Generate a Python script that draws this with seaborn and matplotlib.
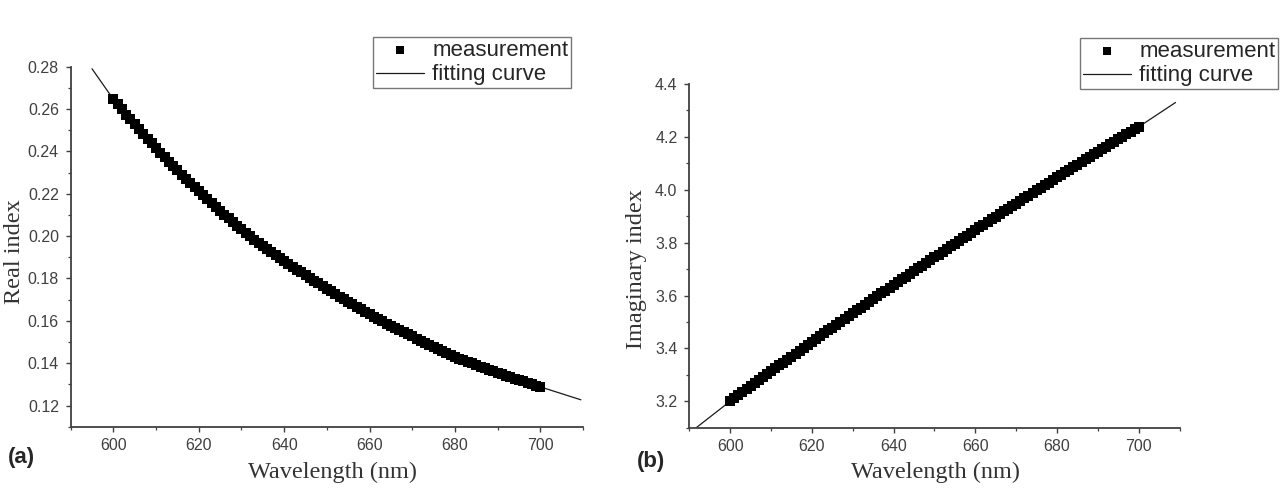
import matplotlib
matplotlib.use('Agg')
import matplotlib.pyplot as plt
import matplotlib.ticker as mticker
import seaborn as sns

# measured wavelengths (nm), every 1 nm
wavelength = list(range(600, 701))

real_index = [
    0.2646, 0.2622, 0.2598, 0.2574, 0.2551, 0.2528, 0.2505, 0.2482, 0.2460, 0.2438,
    0.2416, 0.2394, 0.2373, 0.2352, 0.2331, 0.2310, 0.2290, 0.2270, 0.2250, 0.2230,
    0.2211, 0.2192, 0.2173, 0.2155, 0.2137, 0.2119, 0.2102, 0.2084, 0.2067, 0.2050,
    0.2033, 0.2016, 0.2000, 0.1984, 0.1969, 0.1954, 0.1939, 0.1924, 0.1910, 0.1896,
    0.1882, 0.1868, 0.1855, 0.1842, 0.1829, 0.1816, 0.1803, 0.1790, 0.1777, 0.1764,
    0.1752, 0.1739, 0.1727, 0.1714, 0.1702, 0.1690, 0.1678, 0.1666, 0.1654, 0.1642,
    0.1631, 0.1619, 0.1608, 0.1597, 0.1587, 0.1576, 0.1566, 0.1556, 0.1546, 0.1536,
    0.1526, 0.1516, 0.1506, 0.1496, 0.1487, 0.1477, 0.1468, 0.1458, 0.1449, 0.1439,
    0.1430, 0.1422, 0.1414, 0.1406, 0.1399, 0.1391, 0.1384, 0.1376, 0.1369, 0.1362,
    0.1355, 0.1348, 0.1341, 0.1334, 0.1327, 0.1320, 0.1314, 0.1307, 0.1301, 0.1294,
    0.1288,
]

imag_index = [
    3.2000, 3.2114, 3.2228, 3.2341, 3.2454, 3.2567, 3.2680, 3.2793, 3.2905, 3.3018,
    3.3130, 3.3242, 3.3353, 3.3465, 3.3576, 3.3687, 3.3798, 3.3909, 3.4019, 3.4129,
    3.4239, 3.4349, 3.4459, 3.4568, 3.4677, 3.4786, 3.4895, 3.5004, 3.5112, 3.5220,
    3.5328, 3.5436, 3.5544, 3.5651, 3.5758, 3.5865, 3.5972, 3.6079, 3.6185, 3.6291,
    3.6397, 3.6503, 3.6608, 3.6714, 3.6819, 3.6924, 3.7028, 3.7133, 3.7237, 3.7341,
    3.7445, 3.7549, 3.7652, 3.7756, 3.7859, 3.7962, 3.8064, 3.8167, 3.8269, 3.8371,
    3.8473, 3.8575, 3.8676, 3.8777, 3.8878, 3.8979, 3.9080, 3.9180, 3.9280, 3.9380,
    3.9480, 3.9580, 3.9679, 3.9778, 3.9877, 3.9976, 4.0075, 4.0173, 4.0271, 4.0369,
    4.0467, 4.0565, 4.0662, 4.0759, 4.0856, 4.0953, 4.1050, 4.1146, 4.1242, 4.1338,
    4.1434, 4.1530, 4.1625, 4.1720, 4.1815, 4.1910, 4.2004, 4.2098, 4.2192, 4.2286,
    4.2380,
]

# fitting curves
fit_real_x = [595, 600, 605, 610, 615, 620, 625, 630, 635, 640, 645, 650,
              655, 660, 665, 670, 675, 680, 685, 690, 695, 700, 705, 709.5]
fit_real_y = [0.2790, 0.2646, 0.2528, 0.2416, 0.2310, 0.2211, 0.2119, 0.2033,
              0.1954, 0.1882, 0.1816, 0.1752, 0.1690, 0.1631, 0.1576, 0.1526,
              0.1477, 0.1430, 0.1391, 0.1355, 0.1320, 0.1288, 0.1256, 0.1227]

fit_imag_x = [591.7, 600, 610, 620, 630, 640, 650, 660, 670, 680, 690, 700, 709]
fit_imag_y = [3.100, 3.200, 3.313, 3.424, 3.533, 3.640, 3.745, 3.847, 3.948,
              4.047, 4.143, 4.238, 4.330]

sns.set_style('ticks')
plt.rcParams['font.family'] = ['Liberation Sans', 'DejaVu Sans']

W, H = 1287, 491
fig = plt.figure(figsize=(W / 100, H / 100), dpi=100)

axL = fig.add_axes([70.7 / W, 1 - 426.7 / H, (583 - 70.7) / W, (426.7 - 66.7) / H])
axR = fig.add_axes([689.3 / W, 1 - 427.7 / H, (1179.6 - 689.3) / W, (427.7 - 84) / H])

spine_col = '#404040'
label_font = dict(family=['Liberation Serif', 'DejaVu Serif'], size=17.5, color='#333333')


def style_axis(ax, ylim, ymaj, ymin, fmt):
    ax.set_xlim(590, 710)
    ax.set_ylim(*ylim)
    ax.xaxis.set_major_locator(mticker.MultipleLocator(20))
    ax.xaxis.set_minor_locator(mticker.MultipleLocator(10))
    ax.yaxis.set_major_locator(mticker.MultipleLocator(ymaj))
    ax.yaxis.set_minor_locator(mticker.MultipleLocator(ymin))
    ax.yaxis.set_major_formatter(mticker.FormatStrFormatter(fmt))
    for s in ['top', 'right']:
        ax.spines[s].set_visible(False)
    for s in ['left', 'bottom']:
        ax.spines[s].set_color(spine_col)
        ax.spines[s].set_linewidth(1.3)
    ax.tick_params(which='major', length=3.5, width=1.0, color=spine_col,
                   labelsize=11.5, labelcolor='#404040')
    ax.tick_params(which='minor', length=2.2, width=0.9, color=spine_col)
    ax.tick_params(axis='x', which='major', pad=4.5)
    ax.tick_params(axis='y', which='major', pad=5)


def draw(ax, fx, fy, mx, my):
    sns.lineplot(x=fx, y=fy, ax=ax, color='#1a1a1a', linewidth=0.9,
                 label='fitting curve', sort=False)
    sns.scatterplot(x=mx, y=my, ax=ax, marker='s', s=46, color='black',
                    linewidth=0, label='measurement', zorder=3)
    h, l = ax.get_legend_handles_labels()
    order = [l.index('measurement'), l.index('fitting curve')]
    leg = ax.legend([h[i] for i in order], [l[i] for i in order],
                    fontsize=16, frameon=True, fancybox=False,
                    labelspacing=0.17, borderpad=0.12, handletextpad=0.35,
                    handlelength=2.2, borderaxespad=0, markerscale=0.75,
                    loc='upper right', bbox_transform=fig.transFigure)
    leg.get_frame().set_edgecolor('#555555')
    leg.get_frame().set_linewidth(1.0)
    return leg


style_axis(axL, (0.11, 0.28), 0.02, 0.01, '%.2f')
legL = draw(axL, fit_real_x, fit_real_y, wavelength, real_index)
legL.set_bbox_to_anchor((571 / W, 1 - 37 / H), transform=fig.transFigure)
axL.set_xlabel('Wavelength (nm)', **label_font)
axL.set_ylabel('Real index', **label_font)
axL.xaxis.set_label_coords(0.512, -0.098)
axL.yaxis.set_label_coords(-0.090, 0.486)

style_axis(axR, (3.1, 4.4), 0.2, 0.1, '%.1f')
legR = draw(axR, fit_imag_x, fit_imag_y, wavelength, imag_index)
legR.set_bbox_to_anchor((1278 / W, 1 - 38 / H), transform=fig.transFigure)
axR.set_xlabel('Wavelength (nm)', **label_font)
axR.set_ylabel('Imaginary index', **label_font)
axR.xaxis.set_label_coords(0.503, -0.100)
axR.yaxis.set_label_coords(-0.086, 0.463)

fig.text(8 / W, 1 - 458 / H, '(a)', fontsize=16, fontweight='bold', va='center', ha='left')
fig.text(637 / W, 1 - 461 / H, '(b)', fontsize=16, fontweight='bold', va='center', ha='left')

fig.savefig('out.png', dpi=100, facecolor='white')
